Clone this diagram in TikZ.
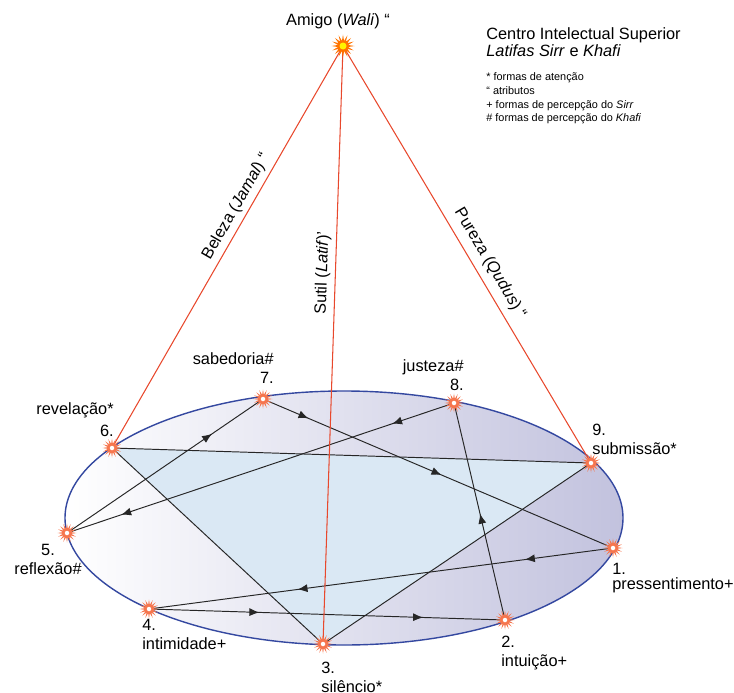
\documentclass[tikz,border=0pt]{standalone}
\usepackage{fontspec}
\setmainfont{Liberation Sans}
\usepackage{tikz}
\usetikzlibrary{arrows.meta,positioning,shapes.geometric,decorations.markings}
\definecolor{wali}{RGB}{232,72,44}
\definecolor{rim}{RGB}{52,72,160}
\definecolor{lilac}{RGB}{194,194,222}
\definecolor{sky}{RGB}{218,232,244}
\definecolor{glow}{RGB}{246,118,78}

\begin{document}
\begin{tikzpicture}[
    x=0.02cm, y=-0.02cm,
    lbl/.style={font=\fontsize{9.3}{10.8}\selectfont, inner sep=0pt, text=black},
    note/.style={font=\fontsize{6.2}{7.9}\selectfont, inner sep=0pt, align=left, anchor=north west},
    burst/.style={star, star points=16, star point ratio=2.2, minimum size=0.38cm, inner sep=0pt, fill=glow, draw=none,
        path picture={\fill[white] (path picture bounding box.center) circle (0.045cm);}},
    sun/.style={burst, minimum size=0.46cm, fill=orange!90!red,
        path picture={\fill[yellow] (path picture bounding box.center) circle (0.07cm);}},
    rib/.style={wali, line width=0.6pt},
    chord/.style={black!85, line width=0.55pt},
    flow/.style={postaction={decorate, decoration={markings,
        mark=at position #1 with {\arrow{Latex[length=2mm,width=1.6mm]}}}}},
]
\useasboundingbox (0,0) rectangle (734,693);

% points on the ellipse
\coordinate (p1) at (613,548);
\coordinate (p2) at (505,620);
\coordinate (p3) at (323,644);
\coordinate (p4) at (149,609);
\coordinate (p5) at (67,533);
\coordinate (p6) at (112,448);
\coordinate (p7) at (263,399);
\coordinate (p8) at (454,403);
\coordinate (p9) at (591,463);
\coordinate (pw) at (343,46);

\path[draw=rim, line width=0.8pt, left color=white, right color=lilac] (344,518) ellipse [x radius=279, y radius=127];
\fill[sky] (p6) -- (p9) -- (p3) -- cycle;

% triangle 9-3-6
\draw[chord] (p6) -- (p9);
\draw[chord] (p9) -- (p3);
\draw[chord] (p3) -- (p6);

% hexad 1-4-2-8-5-7
\draw[chord, flow=0.19, flow=0.68] (p1) -- (p4);
\draw[chord, flow=0.31, flow=0.77] (p4) -- (p2);
\draw[chord, flow=0.49] (p2) -- (p8);
\draw[chord, flow=0.16, flow=0.86] (p8) -- (p5);
\draw[chord, flow=0.74] (p5) -- (p7);
\draw[chord, flow=0.13, flow=0.51] (p7) -- (p1);

% attributes
\draw[rib] (p6) -- node[lbl, sloped, above=2.5pt, pos=0.585] (tjamal) {Beleza (\textit{Jamal}) “} (pw);
\draw[rib] (p3) -- node[lbl, sloped, above=2.5pt, pos=0.62] (tlatif) {Sutil (\textit{Latif})’} (pw);
\draw[rib] (pw) -- node[lbl, sloped, above=4pt, pos=0.54] (tqudus) {Pureza (\textit{Qudus}) “} (p9);

\foreach \i in {1,...,9}
    \node[burst] (s\i) at (p\i) {};
\node[sun] (sw) at (pw) {};

\node[lbl, anchor=north] (lw) at (338,13) {Amigo (\textit{Wali}) “};
\node[lbl, align=left, anchor=north west] (l1) at (612,563) {1.\\[-2.5pt]pressentimento+};
\node[lbl, align=left, anchor=north west] (l2) at (501,636) {2.\\intuição+};
\node[lbl, align=left, anchor=north west] (l3) at (321,662) {3.\\silêncio*};
\node[lbl, align=left, anchor=north west] (l4) at (142,619) {4.\\intimidade+};
\node[lbl, align=center, anchor=north] (l5) at (48,544) {5.\\reflexão\#};
\node[lbl, align=right, anchor=north east] (l6) at (114,402) {revelação*\\[2pt]6.};
\node[lbl, align=right, anchor=north east] (l7) at (274,352) {sabedoria\#\\7.};
\node[lbl, align=right, anchor=north east] (l8) at (464,359) {justeza\#\\8.};
\node[lbl, align=left, anchor=north west] (l9) at (592,424) {9.\\submissão*};

% legend
\node[lbl, font=\fontsize{9.3}{9.6}\selectfont, align=left, anchor=north west] (title) at (486,27)
    {Centro Intelectual Superior\\\textit{Latifas Sirr} e \textit{Khafi}};
\node[note] (keys) at (486,72) {* formas de atenção\\“ atributos\\+ formas de percepção do \textit{Sirr}\\\# formas de percepção do \textit{Khafi}};
\end{tikzpicture}
\end{document}
